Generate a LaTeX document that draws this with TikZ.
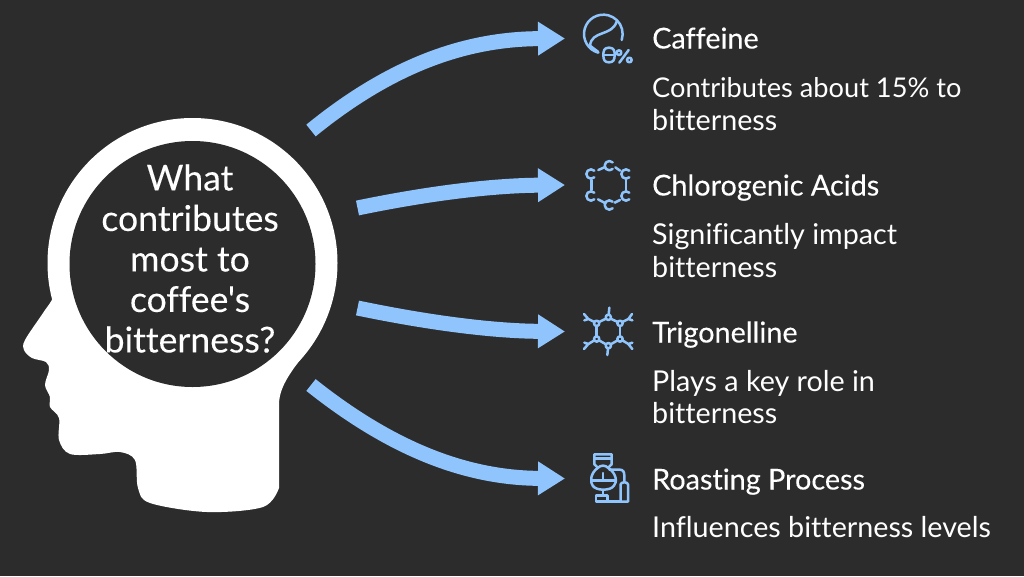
\documentclass[tikz,border=0pt]{standalone}
\usepackage{fontspec}
\newfontfamily\latofont[Ligatures=NoCommon]{Lato}
\newfontfamily\latotitle[Ligatures=NoCommon,FakeBold=0.18]{Lato}
\newfontfamily\latoquest[Ligatures=NoCommon,FakeBold=0.12]{Lato}
\usetikzlibrary{arrows.meta}
\definecolor{bg}{HTML}{2C2C2C}
\definecolor{sky}{HTML}{90C4FC}
\tikzset{
  x=1pt,y=-1pt,
  flow/.style={draw=sky,line width=15pt,-{Triangle[length=27pt,width=32pt]}},
  icon/.style={draw=sky,line width=2.5pt,line cap=round,line join=round,fill=none},
  hole/.style={circle,fill=bg,minimum size=246pt,inner sep=0pt},
  qtext/.style={inner sep=0pt,align=center,text=white,font=\latoquest\fontsize{35.6}{40.5}\selectfont},
  title/.style={anchor=base west,inner sep=0pt,text=white,font=\latotitle\fontsize{28.8}{33}\selectfont},
  body/.style={anchor=base west,inner sep=0pt,text=white,font=\latofont\fontsize{28.7}{33}\selectfont},
}
\newcommand{\carbon}[2]{\draw[icon] (#1,#2) ++(45:14) arc (45:315:14);}
\newcommand{\ringatom}[2]{\draw[icon] (#1,#2) circle (8);}
\begin{document}
\begin{tikzpicture}
\useasboundingbox (0,0) rectangle (1024,576);
\fill[bg] (0,0) rectangle (1024,576);
% head
\fill[white] (192.5,263) circle (145);
\fill[white] plot[smooth,tension=.55] coordinates {(50,262) (52,280) (53,297) (43,313) (25,340) (24,350) (32,358) (46,362) (49,370) (45,385) (50,397) (50,407) (59,418) (59,440) (70,454) (100,454) (120,452) (135,460) (138,488) (150,503) (207,512) (263,507) (279,488)}
  -- (279,403) .. controls (280,385) and (292,370) .. (310,347) -- (200,300) -- cycle;
\node[hole] (q) at (192.5,264) {};
\node[qtext] (qt) at (190,258.5) {What\\contributes\\most to\\coffee's\\bitterness?};
% anchors of the connectors
\coordinate (t1) at (311,130.5);
\coordinate (t2) at (357.5,208);
\coordinate (t3) at (357.5,308);
\coordinate (t4) at (311,385);
\coordinate (h1) at (565,38.5);
\coordinate (h2) at (565,185);
\coordinate (h3) at (565,331.5);
\coordinate (h4) at (565,478.5);
\draw[flow] (t1) .. controls (395,62) and (470,39) .. (h1);
\draw[flow] (t2) .. controls (425,194) and (490,185.5) .. (h2);
\draw[flow] (t3) .. controls (425,322) and (490,331) .. (h3);
\draw[flow] (t4) .. controls (395,452) and (470,478) .. (h4);
% caffeine icon
\begin{scope}[shift={(570,5)},scale=1/3]
  \draw[icon] (100,87) ++(105:58) arc (105:378:58);
  \draw[icon] (140,50) .. controls (125,95) and (65,75) .. (60,122) -- (85,141);
  \draw[icon] (117,128) .. controls (132,128) and (134,138) .. (134,150) .. controls (134,165) and (130,172) .. (117,172) .. controls (104,172) and (100,165) .. (100,150) .. controls (100,138) and (102,128) .. (117,128);
  \draw[icon] (100,150) -- (134,150);
  \draw[icon] (147,143) circle (7);
  \draw[icon] (178,165) circle (7);
  \draw[icon] (176,135) -- (148,173);
\end{scope}
% chlorogenic icon
\begin{scope}[shift={(570,150)},scale=1/3]
  \carbon{63}{72}\carbon{118}{47}\carbon{168}{72}
  \carbon{63}{138}\carbon{118}{165}\carbon{168}{138}
  \draw[icon] (85,60) -- (103,52);
  \draw[icon] (136,52) -- (150,62);
  \draw[icon] (65,90) -- (65,120);
  \draw[icon] (168,90) -- (168,120);
  \draw[icon] (84,148) -- (103,158);
  \draw[icon] (134,158) -- (150,150);
\end{scope}
% trigonelline icon
\begin{scope}[shift={(570,295)},scale=1/3]
  \ringatom{115}{67}\ringatom{150}{85}\ringatom{150}{132}
  \ringatom{115}{152}\ringatom{80}{132}\ringatom{80}{85}
  \draw[icon] (122,71) -- (143,81);
  \draw[icon] (150,93) -- (150,124);
  \draw[icon] (143,136) -- (122,148);
  \draw[icon] (108,148) -- (87,136);
  \draw[icon] (80,124) -- (80,93);
  \draw[icon] (87,81) -- (108,71);
  \draw[icon] (116,59) -- (118,38);
  \draw[icon] (114,160) -- (112,180);
  \draw[icon] (73,81) -- (55,72) (42,57) -- (55,72) -- (43,76);
  \draw[icon] (157,81) -- (175,72) (186,57) -- (175,72) -- (187,76);
  \draw[icon] (73,136) -- (55,147) (42,162) -- (55,147) -- (43,143);
  \draw[icon] (157,136) -- (175,147) (187,162) -- (175,147) -- (187,143);
\end{scope}
% roasting icon
\begin{scope}[shift={(570,445)},scale=1/3]
  \draw[icon] (84,68) -- (73,58) -- (73,28) -- (125,28) -- (125,58) -- (114,68);
  \draw[icon] (73,41) -- (125,41);
  \draw[icon] (84,68) .. controls (60,85) and (60,112) .. (68,122) .. controls (78,138) and (122,138) .. (132,122) .. controls (142,112) and (140,85) .. (114,68);
  \draw[icon] (84,68) .. controls (92,60) and (106,60) .. (114,68);
  \draw[icon] (64,106) -- (136,106);
  \draw[icon] (99,84) -- (99,106);
  \draw[icon] (118,74) -- (150,74) .. controls (160,74) and (163,82) .. (163,92) -- (163,110);
  \draw[icon] (152,170) -- (152,118) .. controls (152,110) and (174,110) .. (174,118) -- (174,170) -- cycle;
  \draw[icon] (152,170) -- (78,170) -- (78,152) -- (112,152) -- (112,170);
  \draw[icon] (99,136) -- (99,152);
\end{scope}
% texts
\node[title] (n1) at (652,48.5) {Caffeine};
\node[body,font=\latofont\fontsize{27.2}{33}\selectfont]  (b1) at (652,97.5) {Contributes about 15\% to};
\node[body]  (c1) at (652,130.5) {bitterness};
\node[title] (n2) at (652,195.5) {Chlorogenic Acids};
\node[body]  (b2) at (652,244) {Significantly impact};
\node[body]  (c2) at (652,277) {bitterness};
\node[title] (n3) at (652,342.5) {Trigonelline};
\node[body]  (b3) at (652,391) {Plays a key role in};
\node[body]  (c3) at (652,423.5) {bitterness};
\node[title] (n4) at (652,489.5) {Roasting Process};
\node[body]  (b4) at (652,537.5) {Influences bitterness levels};
\end{tikzpicture}
\end{document}
